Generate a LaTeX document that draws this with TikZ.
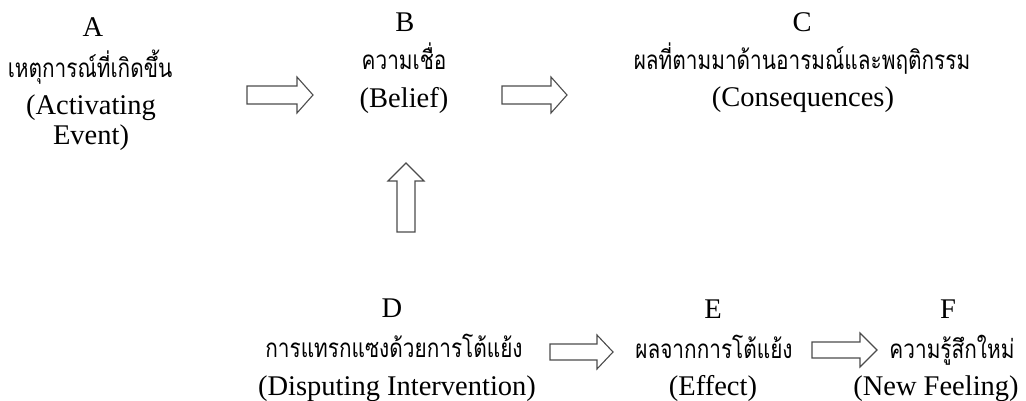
\documentclass[tikz,border=0pt]{standalone}
\usepackage{fontspec}
\setmainfont{Liberation Serif}
\newfontfamily\thaifont[Script=Thai]{Loma}
\newcommand{\thtext}[1]{\scalebox{0.8}[1]{\thaifont\fontsize{26}{30}\selectfont #1}}
\begin{document}
\begin{tikzpicture}[x=1pt,y=-1pt,
  en/.style={anchor=base,inner sep=0pt,font=\fontsize{28.5}{32}\selectfont},
  th/.style={anchor=base,inner sep=0pt},
  blockarrow/.style={draw=black!70,fill=white,line width=1.1pt,line join=miter}]
\useasboundingbox (0,0) rectangle (1026,401);
% A
\node[en] (Al) at (93,37) {A};
\node[th] (Ath) at (90,78) {\thtext{เหตุการณ์ที่เกิดขึ้น}};
\node[en] (Aen1) at (91,115) {(Activating};
\node[en] (Aen2) at (91,145) {Event)};
% B
\node[en] (Bl) at (405,32) {B};
\node[th] (Bth) at (404,70) {\thtext{ความเชื่อ}};
\node[en] (Ben) at (404,108) {(Belief)};
% C
\node[en] (Cl) at (802,32) {C};
\node[th] (Cth) at (802,70) {\thtext{ผลที่ตามมาด้านอารมณ์และพฤติกรรม}};
\node[en] (Cen) at (803,107) {(Consequences)};
% D
\node[en] (Dl) at (392,317) {D};
\node[th] (Dth) at (394,357) {\thtext{การแทรกแซงด้วยการโต้แย้ง}};
\node[en] (Den) at (397,395) {(Disputing Intervention)};
% E
\node[en] (El) at (713,318) {E};
\node[th] (Eth) at (714,358) {\thtext{ผลจากการโต้แย้ง}};
\node[en] (Een) at (713,395) {(Effect)};
% F
\node[en] (Fl) at (948,318) {F};
\node[th] (Fth) at (952,358) {\thtext{ความรู้สึกใหม่}};
\node[en] (Fen) at (936,395) {(New Feeling)};
% block arrows
\draw[blockarrow] (247,86) -- (297,86) -- (297,77) -- (313,95) -- (297,113) -- (297,104) -- (247,104) -- cycle;
\draw[blockarrow] (502,86) -- (551,86) -- (551,77) -- (567,95) -- (551,113) -- (551,104) -- (502,104) -- cycle;
\draw[blockarrow] (550,344) -- (597,344) -- (597,335) -- (613,352) -- (597,369) -- (597,360) -- (550,360) -- cycle;
\draw[blockarrow] (812,342) -- (860,342) -- (860,333) -- (877,350) -- (860,367) -- (860,358) -- (812,358) -- cycle;
\draw[blockarrow] (397,232) -- (397,181) -- (388,181) -- (406,163) -- (424,181) -- (415,181) -- (415,232) -- cycle;
\end{tikzpicture}
\end{document}
